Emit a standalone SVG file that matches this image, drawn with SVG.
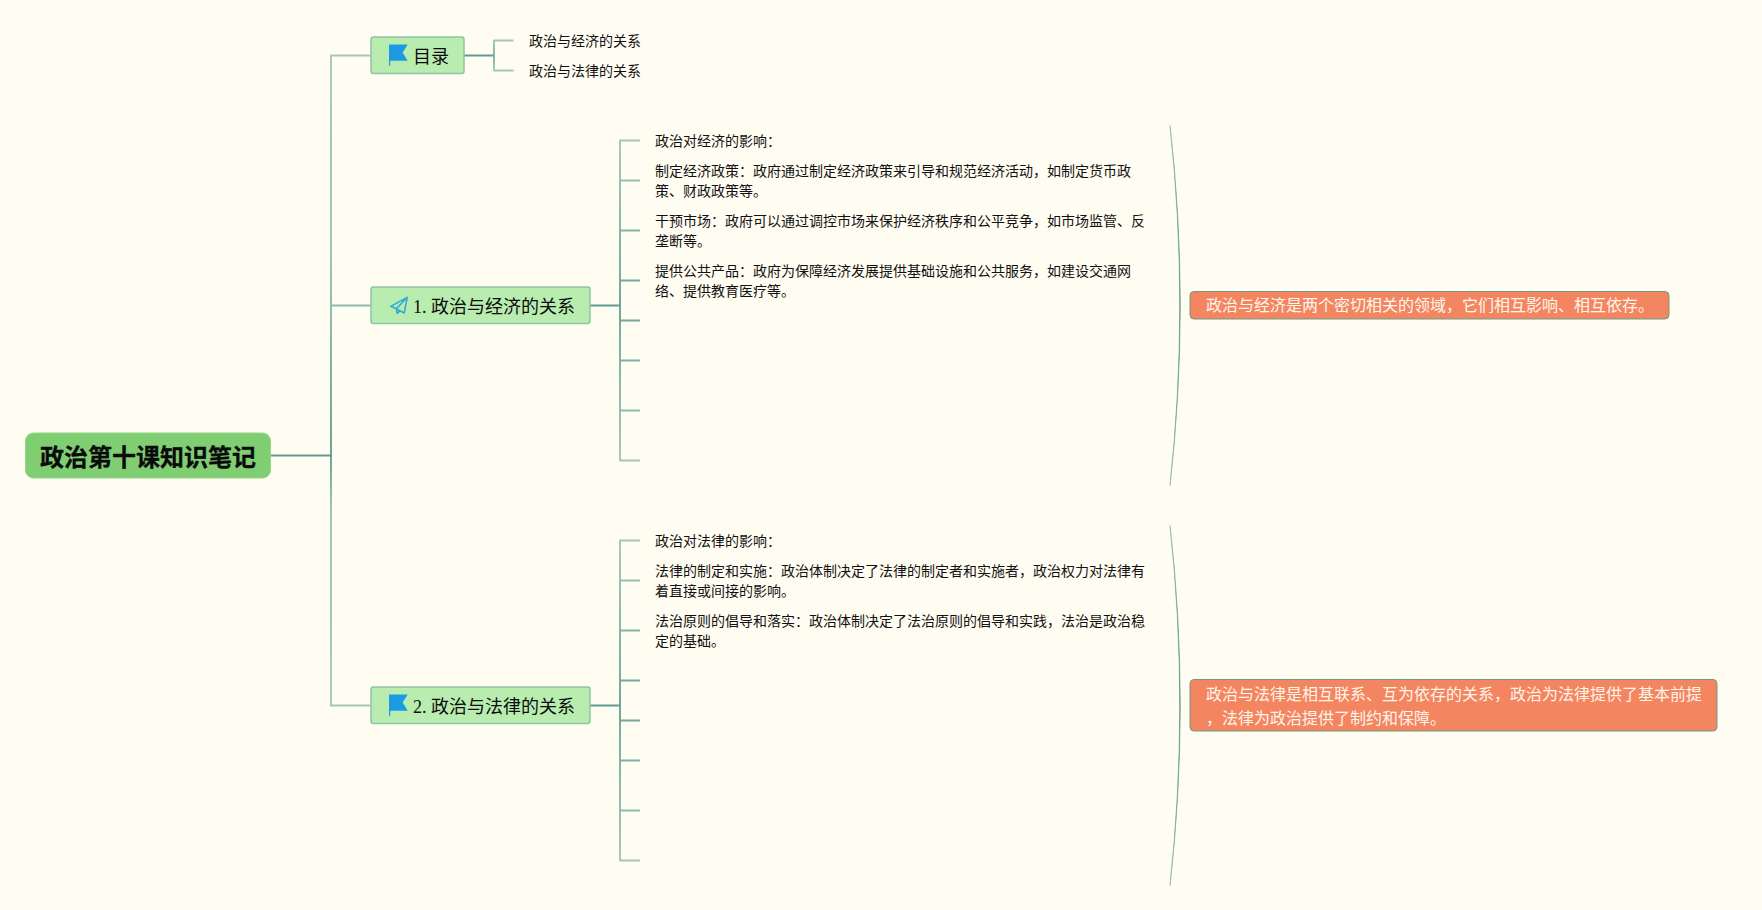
<svg xmlns="http://www.w3.org/2000/svg" width="1762" height="910" viewBox="0 0 1762 910">
<style>
.cjk{font-family:"Liberation Serif","Noto Sans CJK SC",serif}
.sans{font-family:"Noto Sans CJK SC","Liberation Sans",sans-serif}
.leaf{font-size:14px;fill:#111}
.topic{font-size:18px;fill:#0c0c0c}
.box{fill:#b9edb0;stroke:#8fc3a6;stroke-width:1.5}
.note{fill:#f48561;stroke:#6f9a86;stroke-width:1}
.notetext{font-size:16px;fill:#fff6ea}
.link{fill:none;stroke-width:1.9;stroke-linejoin:round}
.stem{fill:none;stroke:#5f9c90;stroke-width:2.2}
.flag{fill:#1c9be2}
</style>
<defs>
<linearGradient id="gTrunk" gradientUnits="userSpaceOnUse" x1="0" y1="55" x2="0" y2="705"><stop offset="0" stop-color="#a3c8b9"/><stop offset="0.3" stop-color="#9cc3b5"/><stop offset="0.615" stop-color="#649f93"/><stop offset="0.7" stop-color="#9cc3b5"/><stop offset="1" stop-color="#a3c8b9"/></linearGradient>
<linearGradient id="gToc" gradientUnits="userSpaceOnUse" x1="0" y1="40" x2="0" y2="70"><stop offset="0" stop-color="#a3c8b9"/><stop offset="0.5" stop-color="#7fb1a3"/><stop offset="1" stop-color="#a3c8b9"/></linearGradient>
<linearGradient id="gA" gradientUnits="userSpaceOnUse" x1="0" y1="140" x2="0" y2="460"><stop offset="0" stop-color="#a3c8b9"/><stop offset="0.515" stop-color="#6aa497"/><stop offset="1" stop-color="#a3c8b9"/></linearGradient>
<linearGradient id="gB" gradientUnits="userSpaceOnUse" x1="0" y1="540" x2="0" y2="860"><stop offset="0" stop-color="#a3c8b9"/><stop offset="0.515" stop-color="#6aa497"/><stop offset="1" stop-color="#a3c8b9"/></linearGradient>
<linearGradient id="gS1" gradientUnits="userSpaceOnUse" x1="0" y1="125" x2="0" y2="485"><stop offset="0" stop-color="#7fb2a3"/><stop offset="0.5" stop-color="#4f9184"/><stop offset="1" stop-color="#7fb2a3"/></linearGradient>
<linearGradient id="gS2" gradientUnits="userSpaceOnUse" x1="0" y1="525" x2="0" y2="885"><stop offset="0" stop-color="#7fb2a3"/><stop offset="0.5" stop-color="#4f9184"/><stop offset="1" stop-color="#7fb2a3"/></linearGradient>
<path id="flagIcon" class="flag" d="M389 44.4H407.7L402.7 52.6L407.7 60.7H390.2V65.7H389Z"/>
</defs>
<rect width="1762" height="910" fill="#fffcf2"/>
<g id="connectors" transform="translate(0 0.5)">
<path class="link" stroke="url(#gTrunk)" d="M370.5 55H331V705H370.5M331 305H370.5"/>
<path class="stem" d="M271 455H331M464 55H494M590 305H620M590 705H620"/>
<path class="link" stroke="url(#gToc)" d="M513.5 40H494V70H513.5"/>
<path class="link" stroke="url(#gA)" d="M640 140H620V460H640M620 180H640M620 230H640M620 280H640M620 320H640M620 360H640M620 410H640"/>
<path class="link" stroke="url(#gB)" d="M640 540H620V860H640M620 580H640M620 630H640M620 680H640M620 720H640M620 760H640M620 810H640"/>
<path fill="url(#gS1)" stroke="url(#gS1)" stroke-width="0.6" d="M1170 125Q1190.5 305 1170 485Q1189.5 305 1170 125Z"/>
<path fill="url(#gS2)" stroke="url(#gS2)" stroke-width="0.6" d="M1170 525Q1190.5 705 1170 885Q1189.5 705 1170 525Z"/>
</g>
<g id="root">
<rect x="25.5" y="433" width="245" height="45" rx="8" fill="#7fcf72" stroke="#93d788" stroke-width="1"/>
<text class="sans" x="40" y="465.5" font-size="24" font-weight="700" fill="#0a0a0a" stroke="#0a0a0a" stroke-width="0.3">政治第十课知识笔记</text>
</g>
<g id="toc">
<rect class="box" x="371" y="37" width="93" height="36.5" rx="2.5"/>
<use href="#flagIcon"/>
<text class="cjk topic" x="413" y="62.5">目录</text>
</g>
<g id="toc-1"><text class="sans leaf" x="529" y="46">政治与经济的关系</text></g>
<g id="toc-2"><text class="sans leaf" x="529" y="76">政治与法律的关系</text></g>
<g id="topic-1">
<rect class="box" x="371" y="287" width="219" height="36.5" rx="2.5"/>
<path d="M407.2 297.3L390.8 306.3L396.4 308.8L404.2 313L407.2 297.3ZM407.2 297.3L396.4 308.8L397.2 313.4L400 310.9" fill="none" stroke="#2ea8d8" stroke-width="1.5" stroke-linejoin="round"/>
<text class="cjk topic" x="413" y="312.5">1. 政治与经济的关系</text>
</g>
<g id="topic-1-leaves" class="sans leaf">
<text x="655" y="146">政治对经济的影响：</text>
<text x="655" y="176">制定经济政策：政府通过制定经济政策来引导和规范经济活动，如制定货币政</text>
<text x="655" y="196">策、财政政策等。</text>
<text x="655" y="226">干预市场：政府可以通过调控市场来保护经济秩序和公平竞争，如市场监管、反</text>
<text x="655" y="246">垄断等。</text>
<text x="655" y="276">提供公共产品：政府为保障经济发展提供基础设施和公共服务，如建设交通网</text>
<text x="655" y="296">络、提供教育医疗等。</text>
</g>
<g id="note-1">
<rect class="note" x="1190" y="291.5" width="479" height="27.5" rx="4"/>
<text class="sans notetext" x="1206" y="310.5">政治与经济是两个密切相关的领域，它们相互影响、相互依存。</text>
</g>
<g id="topic-2">
<rect class="box" x="371" y="687" width="219" height="36.5" rx="2.5"/>
<use href="#flagIcon" y="650"/>
<text class="cjk topic" x="413" y="712.5">2. 政治与法律的关系</text>
</g>
<g id="topic-2-leaves" class="sans leaf">
<text x="655" y="546">政治对法律的影响：</text>
<text x="655" y="576">法律的制定和实施：政治体制决定了法律的制定者和实施者，政治权力对法律有</text>
<text x="655" y="596">着直接或间接的影响。</text>
<text x="655" y="626">法治原则的倡导和落实：政治体制决定了法治原则的倡导和实践，法治是政治稳</text>
<text x="655" y="646">定的基础。</text>
</g>
<g id="note-2">
<rect class="note" x="1190" y="679.5" width="527" height="51.5" rx="4"/>
<text class="sans notetext" x="1206" y="700">政治与法律是相互联系、互为依存的关系，政治为法律提供了基本前提</text>
<text class="sans notetext" x="1206" y="724">，法律为政治提供了制约和保障。</text>
</g>
</svg>
